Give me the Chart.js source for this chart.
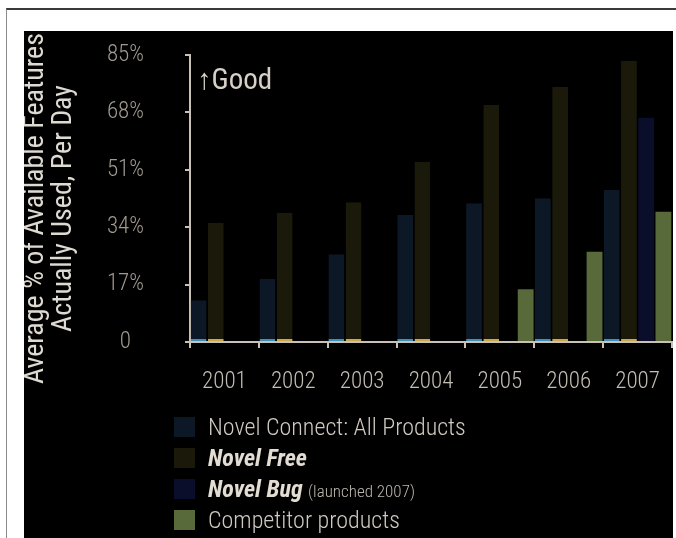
<!DOCTYPE html>
<html>
<head>
<meta charset="utf-8">
<script src="https://cdn.jsdelivr.net/npm/chart.js@4/dist/chart.umd.min.js"></script>
<style>
  html, body { margin:0; padding:0; background:#fff; }
  body { width:676px; height:538px; overflow:hidden; position:relative; }
  #frame { position:absolute; left:6px; top:8px; width:680px; height:560px; border-left:1px solid #8a8a8a; border-top:2px solid #3a3a3a; }
  #panel { position:absolute; left:24px; top:31px; width:649px; height:507px; background:#000; overflow:hidden; }
  #chartBox { position:absolute; left:0; top:0; width:649px; height:507px; }
  #legend { position:absolute; left:150px; top:384px; }
  .row { position:relative; height:31px; }
  .sw { position:absolute; left:0; top:2px; width:21px; height:20px; }
  .lbl { position:absolute; left:34px; top:-1px; white-space:nowrap; font-family:"Roboto Condensed",Roboto,sans-serif; font-weight:300; font-size:24px; line-height:26px; color:#cfc9c0; }
  .lbl b { font-weight:bold; font-style:italic; color:#e2dcd2; }
  .lbl small { font-size:17px; color:#bdb7ae; }
</style>
</head>
<body>
<div id="frame"></div>
<div id="panel">
  <div id="chartBox"><canvas id="c" width="649" height="507"></canvas></div>
  <div id="legend"></div>
</div>
<script>
// ---- data ----
const years = ['2001', '2002', '2003', '2004', '2005', '2006', '2007'];
const connectAll = [12.4, 18.7, 26.0, 37.6, 41.1, 42.6, 45.0];
const novelFree = [35.3, 38.3, 41.4, 53.4, 70.2, 75.6, 83.3];
const novelBug = [null, null, null, null, null, null, 66.4];
const competitor = [null, null, null, null, 15.6, 26.7, 38.6];
const seriesNames = ['Novel Connect: All Products', 'Novel Free', 'Novel Bug', 'Competitor products'];
const seriesNotes = ['', '', '(launched 2007)', ''];
const seriesEmphasis = [false, true, true, false];
const seriesColors = ['#0c1826', '#1b190a', '#0a0e2a', '#58693a'];
const baseEdgeColors = ['#3f8fb8', '#c9a94c', '#0a0e2a', '#58693a'];
const yLabelTicks = [0, 17, 34, 51, 68, 85];
const yTitleLines = ['Average % of Available Features', 'Actually Used, Per Day'];
const noteText = '\u2191Good';

const FONT = '"Roboto Condensed", Roboto, sans-serif';
const AXIS = '#c9c1b5';

const seriesData = [connectAll, novelFree, novelBug, competitor];
const datasets = seriesData.map((d, i) => ({
  label: seriesNames[i],
  data: d,
  backgroundColor: seriesColors[i],
  borderColor: baseEdgeColors[i],
  borderWidth: i < 2 ? {top:0, left:0, right:0, bottom:2} : 0,
  borderSkipped: false,
  categoryPercentage: 1.0,
  barPercentage: 0.92
}));

// y ticks: labelled ticks plus the unlabelled midpoints between them
const allYTicks = [];
yLabelTicks.forEach((v, i) => {
  allYTicks.push(v);
  if (i < yLabelTicks.length - 1) allYTicks.push((v + yLabelTicks[i + 1]) / 2);
});

const overlayText = {
  id: 'overlayText',
  afterDraw(chart) {
    const {ctx, chartArea} = chart;
    ctx.save();
    ctx.fillStyle = '#dedad2';
    ctx.font = '28px ' + FONT;
    ctx.textAlign = 'center';
    ctx.textBaseline = 'middle';
    const cy = (chartArea.top + chartArea.bottom) / 2 + 10;
    yTitleLines.forEach((t, i) => {
      ctx.save();
      ctx.translate(12 + i * 28, cy);
      ctx.rotate(-Math.PI / 2);
      ctx.fillText(t, 0, 0);
      ctx.restore();
    });
    const ys = chart.scales.y;
    ctx.font = '29px ' + FONT;
    ctx.textAlign = 'left';
    ctx.fillStyle = '#d6d0c6';
    ctx.fillText(noteText, chartArea.left + 7, ys.getPixelForValue(yLabelTicks[yLabelTicks.length - 1]) + 27);
    ctx.restore();
  }
};

new Chart(document.getElementById('c'), {
  type: 'bar',
  data: { labels: years, datasets },
  options: {
    responsive: false,
    animation: false,
    layout: { padding: { top: 24, right: 1, bottom: 146, left: 0 } },
    plugins: { legend: { display: false }, tooltip: { enabled: false }, title: { display: false } },
    scales: {
      x: {
        offset: true,
        grid: { display: true, offset: true, drawOnChartArea: false, drawTicks: true, tickLength: 6, color: AXIS, lineWidth: 2 },
        border: { display: true, color: AXIS, width: 2 },
        ticks: { color: '#c4beb4', font: { family: FONT, size: 23, weight: '300' }, padding: 20, maxRotation: 0, autoSkip: false },
        afterFit(s) { s.height = 50; s.paddingLeft = 0; s.paddingRight = 0; }
      },
      y: {
        min: 0, max: 85,
        afterBuildTicks(s) { s.ticks = allYTicks.map(v => ({ value: v })); },
        grid: { display: true, drawOnChartArea: false, drawTicks: true, tickLength: 5, color: AXIS, lineWidth: 2 },
        border: { display: true, color: AXIS, width: 2 },
        ticks: {
          color: '#a09a90',
          font: { family: FONT, size: 23, weight: '300' },
          padding: 41,
          crossAlign: 'center',
          callback(v) { return yLabelTicks.includes(v) ? (v === 0 ? '0' : v + '%') : ''; }
        },
        afterFit(s) { s.width = 166; s.paddingTop = 0; s.paddingBottom = 0; }
      }
    }
  },
  plugins: [overlayText]
});

// legend (real text) built from the series arrays
const legend = document.getElementById('legend');
seriesNames.forEach((name, i) => {
  const row = document.createElement('div');
  row.className = 'row';
  const sw = document.createElement('div');
  sw.className = 'sw';
  sw.style.background = seriesColors[i];
  const lbl = document.createElement('div');
  lbl.className = 'lbl';
  if (seriesEmphasis[i]) {
    const b = document.createElement('b');
    b.textContent = name;
    lbl.appendChild(b);
  } else {
    lbl.appendChild(document.createTextNode(name));
  }
  if (seriesNotes[i]) {
    lbl.appendChild(document.createTextNode(' '));
    const s = document.createElement('small');
    s.textContent = seriesNotes[i];
    lbl.appendChild(s);
  }
  row.appendChild(sw);
  row.appendChild(lbl);
  legend.appendChild(row);
});
</script>
</body>
</html>
